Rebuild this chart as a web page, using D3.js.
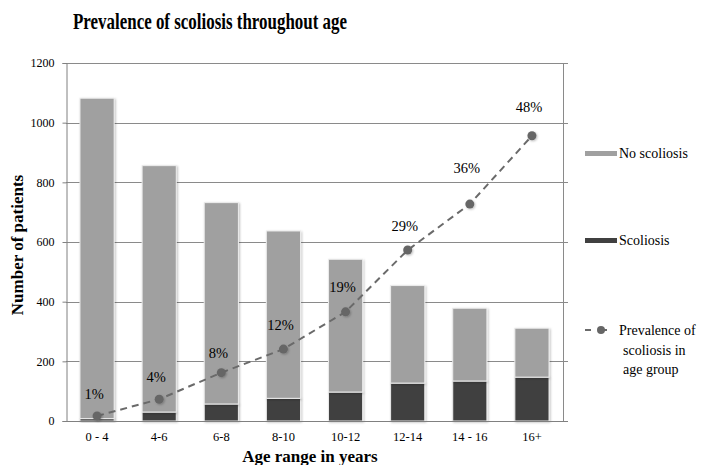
<!DOCTYPE html>
<html>
<head>
<meta charset="utf-8">
<script src="https://cdn.jsdelivr.net/npm/d3@7"></script>
<style>
  html, body { margin: 0; padding: 0; background: #fff; }
  svg { display: block; }
  svg text { font-family: "Liberation Serif", "Times New Roman", serif !important; fill: #000; }
</style>
</head>
<body>
<svg id="chart" width="703" height="465"></svg>
<script>
// ---- data ----
const categories = ["0 - 4", "4-6", "6-8", "8-10", "10-12", "12-14", "14 - 16", "16+"];
const totalPatients = [1082, 856, 732, 637, 542, 454, 378, 311];
const scoliosis = [8, 30, 57, 76, 97, 127, 134, 147];
const noScoliosis = totalPatients.map((t, i) => t - scoliosis[i]);
const prevalence = [0.85, 3.65, 8.1, 12.05, 18.3, 28.65, 36.35, 47.8];
const prevalenceLabels = ["1%", "4%", "8%", "12%", "19%", "29%", "36%", "48%"];
const yTicks = [0, 200, 400, 600, 800, 1000, 1200];
const seriesNames = ["No scoliosis", "Scoliosis", "Prevalence of scoliosis in age group"];

(function () {
// ---- layout ----
const svg = d3.select("#chart");
const mLeft = 66, mRight = 563, mTop = 63, mBottom = 421;

const x = d3.scaleBand().domain(categories).range([mLeft, mRight]).paddingInner(0.45).paddingOuter(0.225);
const y = d3.scaleLinear().domain([0, 1200]).range([mBottom, mTop]);
const y2 = d3.scaleLinear().domain([0, 60]).range([mBottom, mTop]);

const defs = svg.append("defs");
const f = defs.append("filter").attr("id", "shadow").attr("x", "-50%").attr("y", "-50%").attr("width", "200%").attr("height", "200%");
f.append("feDropShadow").attr("dx", 1).attr("dy", 1).attr("stdDeviation", 1.2).attr("flood-color", "#000").attr("flood-opacity", 0.25);

// gridlines
svg.append("g").selectAll("line").data(yTicks.filter(d => d > 0)).join("line")
  .attr("x1", mLeft).attr("x2", mRight + 5)
  .attr("y1", d => Math.round(y(d)) + 0.5).attr("y2", d => Math.round(y(d)) + 0.5)
  .attr("stroke", "#8a8a8a").attr("stroke-width", 1);

// right border
svg.append("line").attr("x1", mRight + 0.5).attr("x2", mRight + 0.5).attr("y1", mTop).attr("y2", mBottom)
  .attr("stroke", "#8a8a8a");

// y axis
const yAxis = svg.append("g").attr("transform", `translate(${mLeft + 0.5},0)`)
  .call(d3.axisLeft(y).tickValues(yTicks).tickFormat(d3.format("d")).tickSize(4).tickPadding(8));
yAxis.select(".domain").attr("stroke", "#808080");
yAxis.selectAll(".tick line").attr("stroke", "#808080");
yAxis.selectAll(".tick text").style("font-size", "12px").attr("fill", "#000");

// stacked bars
const stackData = categories.map((c, i) => ({ cat: c, scoliosis: scoliosis[i], noScoliosis: noScoliosis[i] }));
const stack = d3.stack().keys(["scoliosis", "noScoliosis"])(stackData);
const colors = { scoliosis: "#404040", noScoliosis: "#a0a0a0" };
svg.append("g").selectAll("g").data(stack).join("g")
  .attr("fill", d => colors[d.key])
  .selectAll("rect").data(d => d).join("rect")
  .attr("x", d => x(d.data.cat))
  .attr("width", x.bandwidth())
  .attr("y", d => y(d[1]))
  .attr("height", d => y(d[0]) - y(d[1]))
  .attr("stroke", "#ececec").attr("stroke-width", 1)
  .attr("filter", "url(#shadow)");

// x axis baseline
svg.append("line").attr("x1", mLeft).attr("x2", mRight + 5).attr("y1", mBottom + 0.5).attr("y2", mBottom + 0.5)
  .attr("stroke", "#808080");

// x tick labels
svg.append("g").selectAll("text").data(categories).join("text")
  .attr("x", d => x(d) + x.bandwidth() / 2)
  .attr("y", 441)
  .attr("text-anchor", "middle")
  .style("font-size", "12.5px")
  .text(d => d);

// prevalence line
const lineGen = d3.line().x((d, i) => x(categories[i]) + x.bandwidth() / 2).y(d => y2(d));
svg.append("path").datum(prevalence)
  .attr("d", lineGen)
  .attr("fill", "none").attr("stroke", "#6a6a6a").attr("stroke-width", 2)
  .attr("stroke-dasharray", "7,5");
svg.append("g").selectAll("circle").data(prevalence).join("circle")
  .attr("cx", (d, i) => x(categories[i]) + x.bandwidth() / 2)
  .attr("cy", d => y2(d))
  .attr("r", 4.5)
  .attr("fill", "#666")
  .attr("filter", "url(#shadow)");

// data labels
const labelLift = [17, 17, 15, 19, 20, 19, 31, 24];
svg.append("g").selectAll("text").data(prevalence).join("text")
  .attr("x", (d, i) => x(categories[i]) + x.bandwidth() / 2 - 3)
  .attr("y", (d, i) => y2(d) - labelLift[i])
  .attr("text-anchor", "middle")
  .style("font-size", "14.5px")
  .text((d, i) => prevalenceLabels[i]);

// title
svg.append("text").attr("x", 210).attr("y", 29).attr("text-anchor", "middle")
  .style("font-size", "23px").style("font-weight", "bold")
  .attr("textLength", 274).attr("lengthAdjust", "spacingAndGlyphs")
  .text("Prevalence of scoliosis throughout age");

// axis titles
svg.append("text").attr("transform", "translate(23,245) rotate(-90)").attr("text-anchor", "middle")
  .style("font-size", "17px").style("font-weight", "bold")
  .text("Number of patients");
svg.append("text").attr("x", 310).attr("y", 462).attr("text-anchor", "middle")
  .style("font-size", "17px").style("font-weight", "bold")
  .text("Age range in years");

// legend
const lg = svg.append("g");
lg.append("rect").attr("x", 585).attr("y", 151).attr("width", 32).attr("height", 5).attr("fill", colors.noScoliosis);
lg.append("text").attr("x", 619).attr("y", 158).style("font-size", "14px").text(seriesNames[0]);
lg.append("rect").attr("x", 585).attr("y", 238).attr("width", 32).attr("height", 5).attr("fill", colors.scoliosis);
lg.append("text").attr("x", 619).attr("y", 245).style("font-size", "14px").text(seriesNames[1]);
lg.append("line").attr("x1", 585).attr("x2", 617).attr("y1", 330).attr("y2", 330)
  .attr("stroke", "#6a6a6a").attr("stroke-width", 2).attr("stroke-dasharray", "6,10");
lg.append("circle").attr("cx", 601).attr("cy", 330).attr("r", 4).attr("fill", "#666");
const lt = lg.append("text").attr("x", 619).attr("y", 335).style("font-size", "14px");
["Prevalence of", "scoliosis in", "age group"].forEach((s, i) => {
  lt.append("tspan").attr("x", i === 0 ? 619 : 623).attr("dy", i === 0 ? 0 : 19.5).text(s);
});
})();
</script>
</body>
</html>
